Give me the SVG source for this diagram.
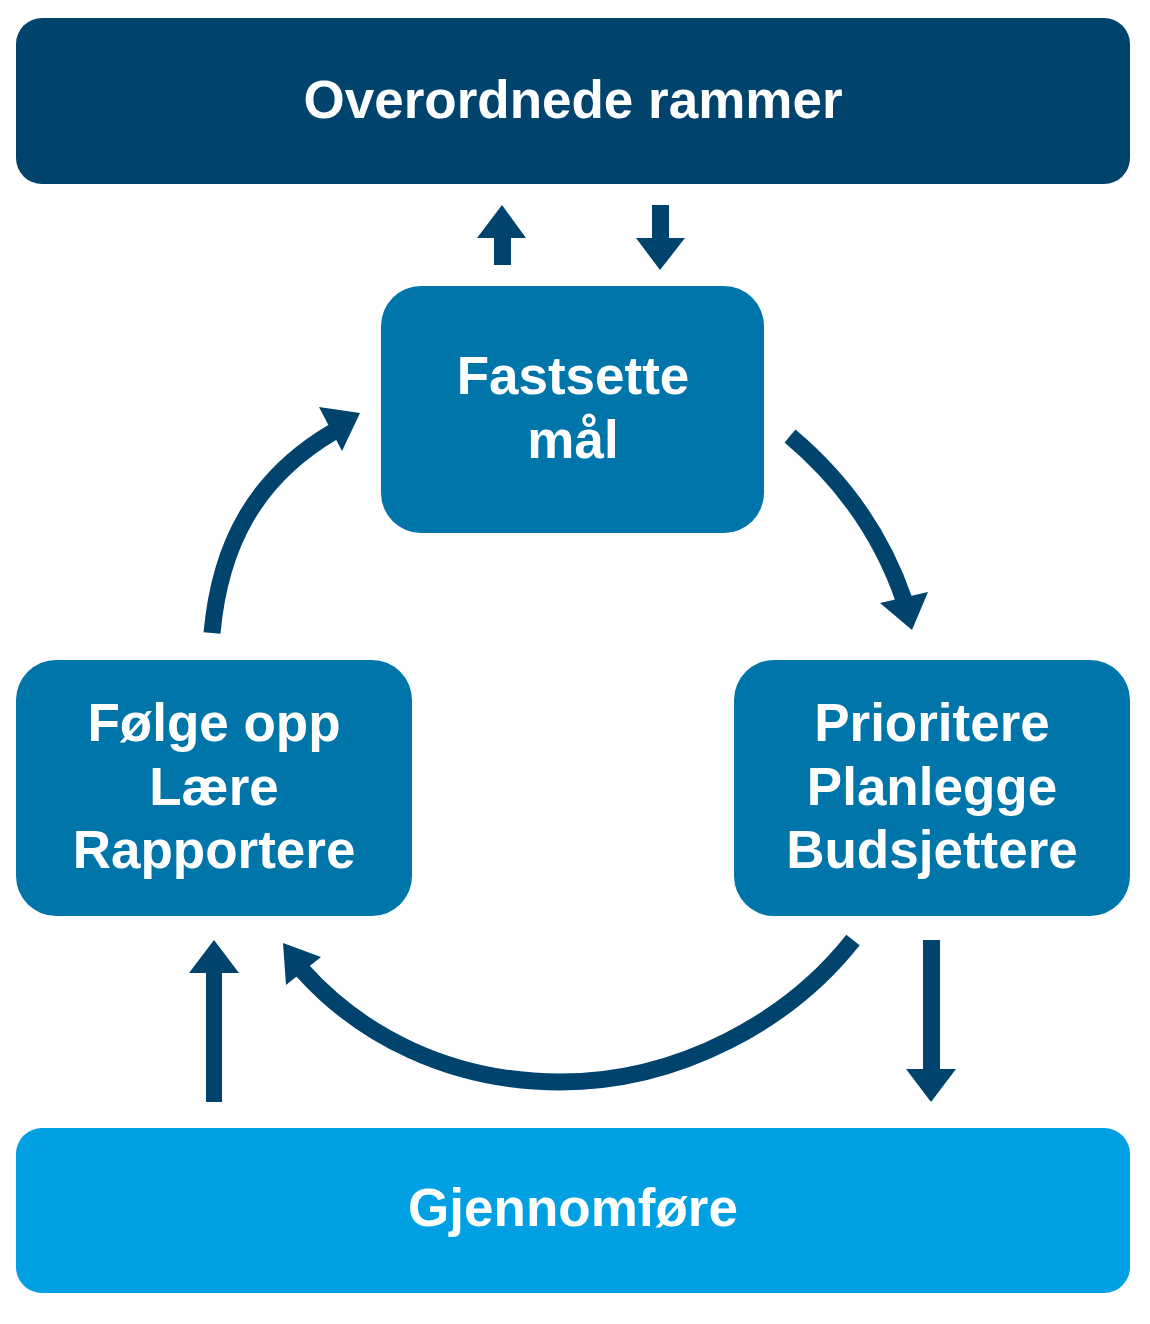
<svg xmlns="http://www.w3.org/2000/svg" width="1150" height="1324" viewBox="0 0 1150 1324">
<style>
.lbl{font-family:"Liberation Sans",Arial,sans-serif;font-weight:bold;font-size:53px;fill:#fff;text-anchor:middle}
.dark{fill:#00446E}
.mid{fill:#0075AA}
.light{fill:#00A0E3}
.arc{fill:none;stroke:#00446E;stroke-width:17}
.head{fill:#00446E}
</style>
<rect width="1150" height="1324" fill="#fff"/>
<g id="overordnede">
<rect class="dark" x="16" y="18" width="1114" height="166" rx="26"/>
<text class="lbl" x="573" y="118">Overordnede rammer</text>
</g>
<g id="fastsette">
<rect class="mid" x="381" y="286" width="383" height="247" rx="40"/>
<text class="lbl" x="573" y="394">Fastsette</text>
<text class="lbl" x="573" y="458">mål</text>
</g>
<g id="folge">
<rect class="mid" x="16" y="660" width="396" height="256" rx="40"/>
<text class="lbl" x="214" y="741">Følge opp</text>
<text class="lbl" x="214" y="805">Lære</text>
<text class="lbl" x="214" y="868">Rapportere</text>
</g>
<g id="prioritere">
<rect class="mid" x="734" y="660" width="396" height="256" rx="40"/>
<text class="lbl" x="932" y="741">Prioritere</text>
<text class="lbl" x="932" y="805">Planlegge</text>
<text class="lbl" x="932" y="868">Budsjettere</text>
</g>
<g id="gjennomfore">
<rect class="light" x="16" y="1128" width="1114" height="165" rx="26"/>
<text class="lbl" x="573" y="1226">Gjennomføre</text>
</g>
<g id="connectors">
<polygon class="head" points="494,265 511,265 511,238 526,238 502,205 477,238 494,238"/>
<polygon class="head" points="652,205 669,205 669,238 685,238 660,270 636,238 652,238"/>
<path class="arc" d="M212,633 C220,545 255,478 333,432"/>
<polygon class="head" points="319,407 360,413 342,451"/>
<path class="arc" d="M790,436 C840,478 880,530 904,600"/>
<polygon class="head" points="880,603 928,592 912,630"/>
<path class="arc" d="M853,940 C790,1020 680,1082 560,1082 C450,1082 360,1035 302,970"/>
<polygon class="head" points="283,943 321,957 286,985"/>
<polygon class="head" points="206,1102 222,1102 222,973 239,973 214,940 189,973 206,973"/>
<polygon class="head" points="923,940 940,940 940,1069 956,1069 931,1102 906,1069 923,1069"/>
</g>
</svg>
